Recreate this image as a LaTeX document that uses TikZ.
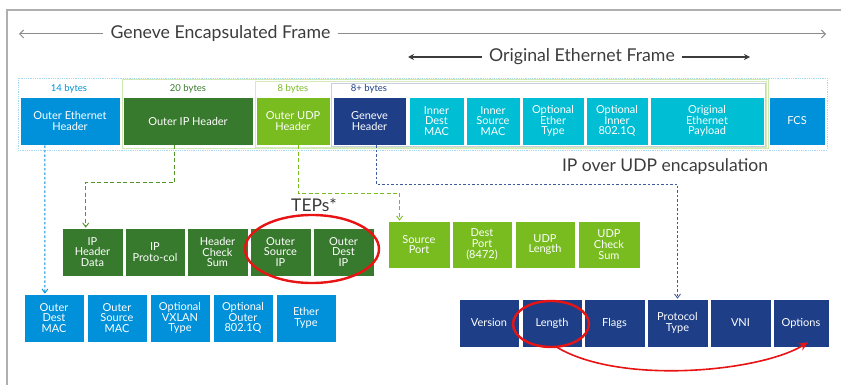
\documentclass[tikz,border=0pt]{standalone}
\usepackage{fontspec}
\setmainfont{Lato}
\usetikzlibrary{arrows.meta,calc}

\definecolor{ethblue}{RGB}{0,145,218}
\definecolor{ipgreen}{RGB}{56,122,45}
\definecolor{udpgreen}{RGB}{120,188,32}
\definecolor{genblue}{RGB}{30,62,135}
\definecolor{innercyan}{RGB}{0,190,212}
\definecolor{ringred}{RGB}{232,20,20}
\definecolor{titlegray}{RGB}{60,60,60}
\definecolor{framegray}{RGB}{175,175,175}

\tikzset{
  fld/.style={draw=white, line width=0.6pt, inner sep=0pt, align=center, text=white,
    minimum height=48pt, font=\fontsize{11}{10.7}\selectfont},
  bytes/.style={inner sep=0pt, font=\fontsize{9.5}{10}\selectfont},
  title/.style={inner sep=7pt, text=titlegray, font=\fontsize{17.7}{19}\selectfont},
  link/.style={line width=1.1pt, -{Straight Barb[length=4pt,width=6pt,line width=0.9pt]}},
  bluedots/.style={link, dash pattern=on 2.5pt off 2pt},
  greendash/.style={link, dash pattern=on 4pt off 2.5pt},
  redring/.style={draw=ringred, line width=2.4pt},
}

\begin{document}
\begin{tikzpicture}[x=1pt,y=-1pt]
\useasboundingbox (0,0) rectangle (841,385);

% page frame
\draw[framegray, line width=1.6pt] (7,385) -- (7,10) -- (841,10);

% frame titles
\coordinate (gL) at (19,34);
\coordinate (gR) at (826,34);
\node[title] (gtitle) at (220.5,34) {Geneve Encapsulated Frame};
\draw[framegray!80!black, line width=1pt, -{Straight Barb[length=4pt,width=8pt]}] (gtitle.west) -- (gL);
\draw[framegray!80!black, line width=1pt, -{Straight Barb[length=4pt,width=8pt]}] (gtitle.east) -- (gR);

\coordinate (oL) at (408,57);
\coordinate (oR) at (750,57);
\node[title] (otitle) at (582,57) {Original Ethernet Frame};
\draw[titlegray, line width=1.3pt, -{Stealth[length=6pt,width=6pt]}] (otitle.west) -- (oL);
\draw[titlegray, line width=1.3pt, -{Stealth[length=6pt,width=6pt]}] (otitle.east) -- (oR);

% byte-count outlines
\draw[ethblue!35, line width=0.8pt, densely dotted] (18,78) rectangle (827,150);
\draw[udpgreen!35, line width=0.8pt] (122,79) rectangle (768,148);
\draw[udpgreen!30, line width=0.8pt] (255,81) rectangle (766,147);
\draw[genblue!25, line width=0.8pt] (331,83) rectangle (765,146);

\node[bytes, text=ethblue] (b14) at (69,89) {14 bytes};
\node[bytes, text=ipgreen] (b20) at (188,89) {20 bytes};
\node[bytes, text=udpgreen] (b8) at (293,89) {8 bytes};
\node[bytes, text=genblue] (b8p) at (369,89) {8+ bytes};

% encapsulated frame
\node[fld, fill=ethblue, minimum width=100pt] (oeh) at (70,121) {Outer Ethernet\\Header};
\node[fld, fill=ipgreen, minimum width=130pt] (oip) at (188,121) {Outer IP Header};
\node[fld, fill=udpgreen, minimum width=74pt] (oudp) at (293,121) {Outer UDP\\Header};
\node[fld, fill=genblue, minimum width=73pt] (gen) at (369.5,121) {Geneve\\Header};
\node[fld, fill=innercyan, minimum width=55pt] (idm) at (436.5,121) {Inner\\Dest\\MAC};
\node[fld, fill=innercyan, minimum width=54pt] (ism) at (493,121) {Inner\\Source\\MAC};
\node[fld, fill=innercyan, minimum width=62pt] (oet) at (553,121) {Optional\\Ether\\Type};
\node[fld, fill=innercyan, minimum width=62pt] (oiq) at (617,121) {Optional\\Inner\\802.1Q};
\node[fld, fill=innercyan, minimum width=114pt] (oep) at (707,121) {Original\\Ethernet\\Payload};
\node[fld, fill=ethblue, minimum width=56pt] (fcs) at (797,121) {FCS};

\node[inner sep=0pt, text=titlegray, font=\fontsize{17.5}{19}\selectfont] (ipudp) at (665,167) {IP over UDP encapsulation};

% outer IP header fields
\node[fld, fill=ipgreen, minimum width=61pt] (iphd) at (92.5,252) {IP\\Header\\Data};
\node[fld, fill=ipgreen, minimum width=60pt] (ipp) at (155,252) {IP\\Proto-col};
\node[fld, fill=ipgreen, minimum width=61pt] (hcs) at (217.5,252) {Header\\Check\\Sum};
\node[fld, fill=ipgreen, minimum width=61pt] (osip) at (280.5,252) {Outer\\Source\\IP};
\node[fld, fill=ipgreen, minimum width=61pt] (odip) at (343.5,252) {Outer\\Dest\\IP};

\node[inner sep=0pt, text=titlegray, font=\fontsize{17.5}{19}\selectfont] (teps) at (314,205) {TEPs*};

% outer ethernet header fields
\node[fld, fill=ethblue, minimum width=60pt] (odm) at (54,318) {Outer\\Dest\\MAC};
\node[fld, fill=ethblue, minimum width=60pt] (osm) at (117,318) {Outer\\Source\\MAC};
\node[fld, fill=ethblue, minimum width=60pt] (ovt) at (180,318) {Optional\\VXLAN\\Type};
\node[fld, fill=ethblue, minimum width=60pt] (oo) at (243,318) {Optional\\Outer\\802.1Q};
\node[fld, fill=ethblue, minimum width=60pt] (et) at (306,318) {Ether\\Type};

% outer UDP header fields
\node[fld, fill=udpgreen, minimum width=62pt, minimum height=47pt] (sp) at (419,244.5) {Source\\Port};
\node[fld, fill=udpgreen, minimum width=60pt, minimum height=47pt] (dp) at (482,244.5) {Dest\\Port\\(8472)};
\node[fld, fill=udpgreen, minimum width=60pt, minimum height=47pt] (ul) at (545,244.5) {UDP\\Length};
\node[fld, fill=udpgreen, minimum width=62pt, minimum height=47pt] (ucs) at (609,244.5) {UDP\\Check\\Sum};

% Geneve header fields
\node[fld, fill=genblue, minimum width=60pt] (ver) at (489,323) {Version};
\node[fld, fill=genblue, minimum width=60pt] (len) at (552,323) {Length};
\node[fld, fill=genblue, minimum width=61pt] (flg) at (614.5,323) {Flags};
\node[fld, fill=genblue, minimum width=61pt] (pt) at (677.5,323) {Protocol\\Type};
\node[fld, fill=genblue, minimum width=61pt] (vni) at (740.5,323) {VNI};
\node[fld, fill=genblue, minimum width=56pt] (opt) at (801,323) {Options};

% expansion links
\draw[bluedots, ethblue] ($(oeh.south west)!.25!(oeh.south east)$) -- ($(odm.north west)!.35!(odm.north east)$);
\draw[greendash, ipgreen!60!udpgreen] ($(oip.south west)!.4!(oip.south east)$) -- ++(0,37) -| ($(iphd.north west)!.39!(iphd.north east)$);
\draw[greendash, udpgreen] ($(oudp.south west)!.57!(oudp.south east)$) -- ++(0,48) -| ($(sp.north west)!.19!(sp.north east)$);
\draw[bluedots, genblue!85] ($(gen.south west)!.59!(gen.south east)$) -- ++(0,39) -| (pt.north);

% highlights
\draw[redring] ($(osip.center)!.5!(odip.center)+(0,-3)$) ellipse (67 and 34);
\draw[redring] ($(len.center)+(-1,1)$) ellipse (38 and 23);
\draw[ringred, line width=1.6pt, -{Stealth[length=9pt,width=8pt]}]
  ($(len.south)+(5,0)$) .. controls (620,385) and (760,372) .. ($(opt.south)+(7,-5)$);
\end{tikzpicture}
\end{document}
